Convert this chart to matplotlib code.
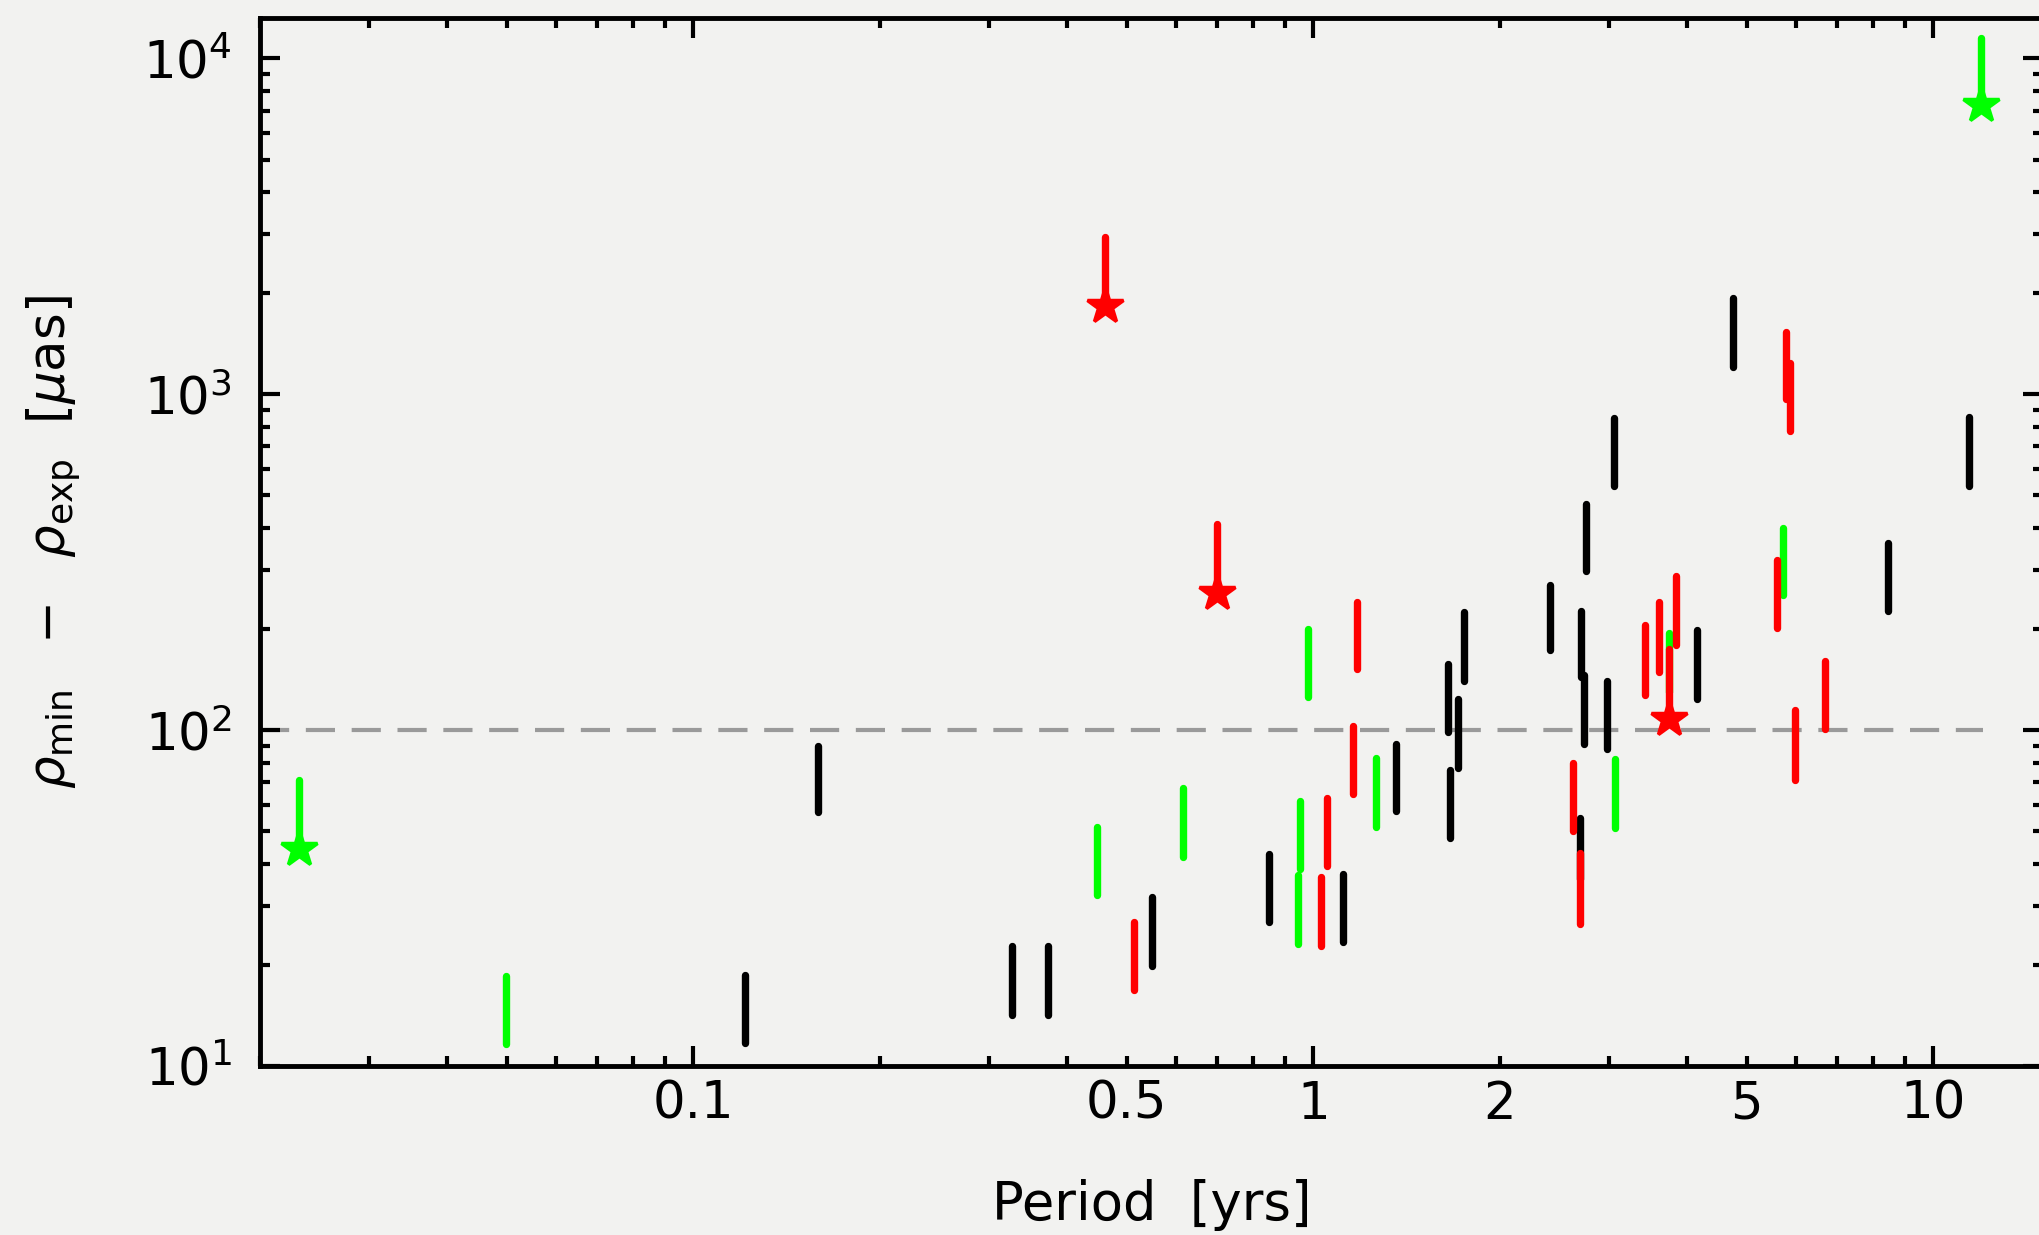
import math
import matplotlib
matplotlib.use("Agg")
import matplotlib.pyplot as plt
from matplotlib.ticker import FixedLocator, FuncFormatter, LogLocator, NullFormatter

# bars: period [yrs], lower and upper end of rho_min - rho_exp [muas]
black_period = [0.121, 0.159, 0.327, 0.373, 0.55, 0.847, 1.117, 1.36, 1.65, 1.66,
                1.71, 1.75, 2.41, 2.69, 2.70, 2.73, 2.75, 2.97, 3.05, 4.15,
                4.75, 8.44, 11.4]
black_lo = [11.7, 56.9, 14.2, 14.2, 19.8, 26.9, 23.4, 57.4, 99, 47.8,
            77.2, 140, 173, 36, 144, 91, 298, 88, 533, 124,
            1206, 226, 533]
black_hi = [18.6, 90, 22.8, 22.8, 31.9, 42.8, 37.3, 90.7, 157, 76.2,
            123.7, 225, 270, 54.6, 226, 146, 471, 140.5, 850, 199,
            1930, 362, 856]

green_period = [0.0231, 0.0499, 0.447, 0.616, 0.943, 0.951, 0.98, 1.26, 3.07, 3.75, 5.72, 11.95]
green_lo = [44.3, 11.6, 32.4, 42, 23.1, 38.6, 125.5, 51.6, 51, 130, 253, 7272]
green_hi = [71, 18.5, 51.6, 67.2, 37, 61.5, 200, 82.7, 82, 195, 400, 11523]
green_star = [True, False, False, False, False, False, False, False, False, False, False, True]

red_period = [0.461, 0.513, 0.699, 1.03, 1.05, 1.157, 1.174, 2.62, 2.69, 3.43,
              3.61, 3.75, 3.85, 5.6, 5.78, 5.86, 5.99, 6.69]
red_lo = [1832, 16.8, 256, 22.8, 39.4, 64.5, 152, 50.2, 26.4, 127,
          149, 107.8, 179, 202, 971, 777, 71, 101]
red_hi = [2938, 26.9, 411, 36.5, 62.7, 102.8, 241, 80, 43.1, 205.6,
          241, 175, 288, 322, 1533, 1239, 115, 161]
red_star = [True, False, True, False, False, False, False, False, False, False,
            False, True, False, False, False, False, False, False]

ref_level = 100
ref_period_end = 12.0

x_major = [0.1, 1, 10]
x_minor_labels = {0.5: "0.5", 2: "2", 5: "5"}

bg = "#f2f2f0"
plt.rcParams["font.family"] = ["DejaVu Sans"]
plt.rcParams["mathtext.fontset"] = "dejavusans"

fig = plt.figure(figsize=(20.39, 12.35), dpi=100, facecolor=bg)
ax = fig.add_axes([260 / 2039, 1 - 1066 / 1235, 1782.6 / 2039, 1048 / 1235])
ax.set_facecolor(bg)
ax.set_xscale("log")
ax.set_yscale("log")
ax.set_xlim(0.02, 15)
ax.set_ylim(10, 13200)

ax.plot([0.02, ref_period_end], [ref_level, ref_level], color="#9a9a9a", lw=3,
        dashes=[7, 4], zorder=1)

lw = 5.3
ax.vlines(black_period, black_lo, black_hi, colors="black", linewidth=lw,
          capstyle="round", zorder=2)
ax.vlines(green_period, green_lo, green_hi, colors="#00ff00", linewidth=lw,
          capstyle="round", zorder=3)
ax.vlines(red_period, red_lo, red_hi, colors="#ff0000", linewidth=lw,
          capstyle="round", zorder=4)

gx = [p for p, s in zip(green_period, green_star) if s]
gy = [v for v, s in zip(green_lo, green_star) if s]
rx = [p for p, s in zip(red_period, red_star) if s]
ry = [v for v, s in zip(red_lo, red_star) if s]
ax.plot(gx, gy, "*", color="#00ff00", ms=27, mec="#00ff00", mew=2.5, zorder=5)
ax.plot(rx, ry, "*", color="#ff0000", ms=27, mec="#ff0000", mew=2.5, zorder=5)

# axes styling
for sp in ax.spines.values():
    sp.set_linewidth(3.5)

ax.xaxis.set_major_locator(FixedLocator(x_major))
ax.xaxis.set_major_formatter(FuncFormatter(lambda v, p: "%g" % v))
ax.xaxis.set_minor_locator(LogLocator(base=10, subs=range(2, 10), numticks=20))


def minor_fmt(v, p):
    for k, s in x_minor_labels.items():
        if abs(v - k) / k < 1e-6:
            return s
    return ""


ax.xaxis.set_minor_formatter(FuncFormatter(minor_fmt))

ax.yaxis.set_major_locator(FixedLocator([10, 100, 1000, 10000]))
ax.yaxis.set_major_formatter(FuncFormatter(lambda v, p: r"$10^{%d}$" % round(math.log10(v))))
ax.yaxis.set_minor_locator(LogLocator(base=10, subs=range(2, 10), numticks=20))
ax.yaxis.set_minor_formatter(NullFormatter())

ax.tick_params(which="both", direction="in", top=True, right=True, width=3,
               labelsize=37, colors="black")
ax.tick_params(which="major", length=14.5)
ax.tick_params(which="minor", length=7.5)
ax.tick_params(axis="x", which="both", pad=10)
ax.tick_params(axis="y", which="both", pad=20)

ax.set_xlabel("Period  [yrs]", fontsize=38)
ax.xaxis.set_label_coords(0.5, -0.108)
ax.set_ylabel(r"$\rho_{\rm min}\ \ -\ \ \rho_{\rm exp}\ \ [\mu{\rm as}]$", fontsize=37)
ax.yaxis.set_label_coords(-0.1, 0.5)

fig.savefig("out.png", dpi=100, facecolor=bg)
